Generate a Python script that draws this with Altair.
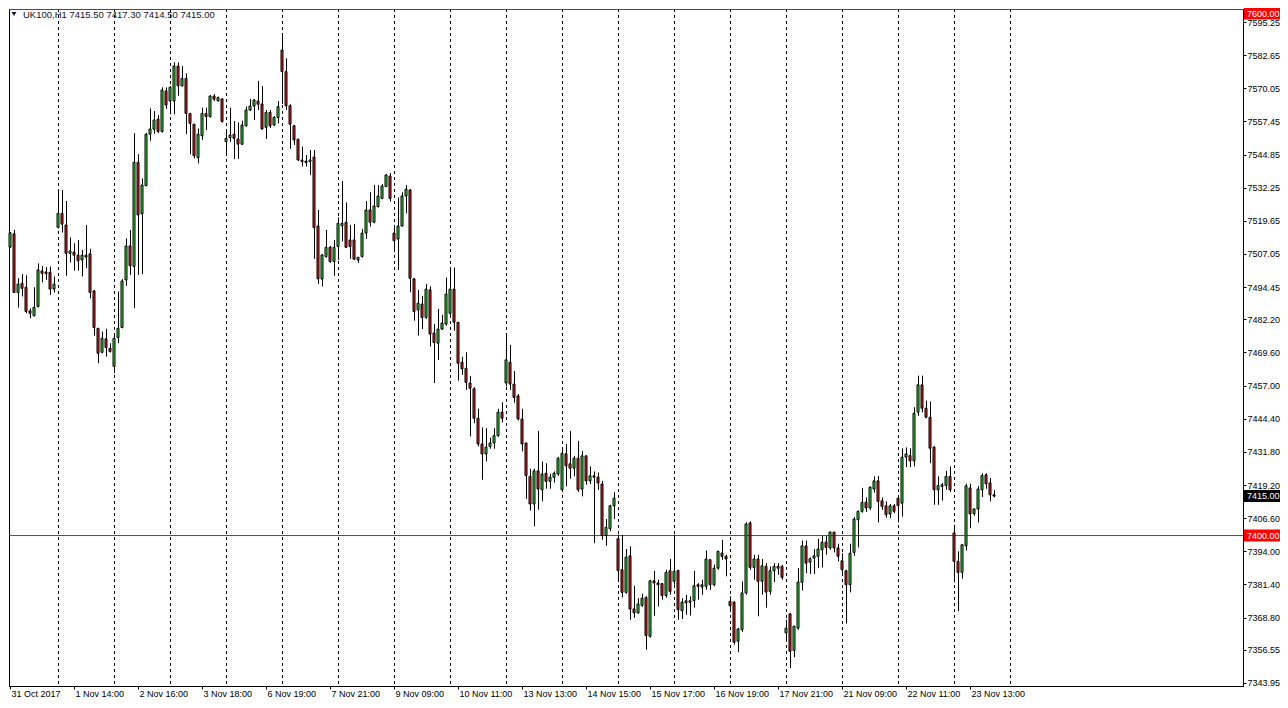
import altair as alt
import pandas as pd

symbol = "UK100,H1"

opens = [7509.7, 7514.7, 7492.4, 7495.9, 7494.4, 7485.4, 7483.6, 7487.1, 7500.6, 7500.2,
         7500.1, 7493.7, 7517.2, 7522.5, 7518.1, 7507.3, 7507.8, 7506.6, 7504.8, 7506.6,
         7507.1, 7493.0, 7478.8, 7469.7, 7474.8, 7471.2, 7464.3, 7475.3, 7479.1, 7497.2,
         7510.1, 7502.3, 7541.9, 7522.3, 7533.0, 7552.6, 7554.5, 7558.3, 7553.6, 7569.0,
         7565.2, 7565.2, 7578.5, 7571.0, 7573.8, 7560.5, 7556.4, 7543.7, 7552.0, 7560.5,
         7559.3, 7567.1, 7565.3, 7566.0, 7549.8, 7551.3, 7552.6, 7550.8, 7548.8, 7555.8,
         7561.8, 7563.3, 7565.2, 7564.1, 7555.2, 7560.9, 7556.1, 7558.9, 7584.6, 7576.4,
         7563.4, 7555.8, 7550.7, 7542.8, 7542.4, 7542.2, 7543.9, 7517.7, 7497.5, 7506.1,
         7509.6, 7504.2, 7509.9, 7517.8, 7519.1, 7512.4, 7512.4, 7504.8, 7506.1, 7515.0,
         7523.8, 7519.1, 7525.1, 7528.2, 7532.7, 7536.7, 7515.0, 7512.7, 7517.7, 7529.1,
         7531.4, 7497.6, 7485.8, 7488.0, 7482.9, 7493.4, 7477.0, 7473.1, 7478.5, 7480.4,
         7484.5, 7493.7, 7481.1, 7465.9, 7463.6, 7458.0, 7455.8, 7444.6, 7434.8, 7431.0,
         7433.9, 7435.2, 7438.0, 7446.9, 7458.0, 7465.9, 7457.6, 7453.1, 7444.3, 7435.2,
         7422.5, 7412.0, 7424.6, 7417.4, 7423.7, 7420.6, 7422.1, 7423.4, 7417.4, 7431.1,
         7427.3, 7425.6, 7429.4, 7417.7, 7430.3, 7420.8, 7422.7, 7422.2, 7419.6, 7400.0,
         7402.6, 7411.3, 7398.8, 7387.0, 7378.4, 7392.3, 7372.1, 7370.6, 7373.4, 7376.5,
         7361.7, 7382.8, 7382.0, 7381.7, 7377.2, 7386.6, 7382.6, 7386.7, 7371.4, 7374.4,
         7374.6, 7375.3, 7381.3, 7380.4, 7380.7, 7390.8, 7381.3, 7387.6, 7393.3, 7392.1,
         7375.0, 7374.7, 7359.8, 7364.2, 7378.2, 7404.8, 7387.9, 7391.1, 7382.6, 7388.3,
         7378.8, 7386.6, 7388.3, 7388.3, 7363.0, 7370.2, 7356.3, 7364.8, 7382.2, 7396.1,
         7389.9, 7391.4, 7392.1, 7394.6, 7397.5, 7395.3, 7401.3, 7395.3, 7390.4, 7386.6,
         7381.3, 7393.6, 7406.0, 7409.2, 7412.7, 7410.5, 7417.7, 7420.8, 7413.2, 7411.3,
         7408.2, 7411.3, 7414.2, 7412.3, 7429.8, 7430.4, 7428.4, 7446.9, 7457.3, 7448.4,
         7445.0, 7433.6, 7417.4, 7418.7, 7419.0, 7422.5, 7401.0, 7390.2, 7386.0, 7396.1,
         7418.1, 7408.3, 7410.1, 7417.4, 7423.1, 7420.0, 7415.5]

highs = [7515.4, 7516.2, 7497.8, 7499.4, 7499.0, 7486.4, 7494.4, 7503.5, 7502.5, 7502.0,
         7502.3, 7498.5, 7531.4, 7531.4, 7527.2, 7513.4, 7511.1, 7512.4, 7508.6, 7518.1,
         7509.0, 7493.4, 7478.9, 7477.6, 7478.6, 7473.1, 7477.0, 7492.8, 7497.5, 7513.0,
         7516.2, 7553.0, 7545.0, 7535.8, 7553.1, 7562.4, 7561.4, 7559.9, 7570.4, 7570.4,
         7570.9, 7579.9, 7579.9, 7578.5, 7575.7, 7560.7, 7556.5, 7554.8, 7562.7, 7562.7,
         7567.5, 7567.8, 7566.9, 7566.3, 7554.2, 7562.7, 7557.6, 7557.1, 7557.7, 7563.1,
         7566.0, 7566.0, 7572.8, 7570.9, 7561.8, 7561.8, 7559.5, 7565.2, 7590.7, 7581.5,
         7564.0, 7556.1, 7550.8, 7547.9, 7544.7, 7546.6, 7546.6, 7523.8, 7507.0, 7516.2,
         7510.1, 7512.4, 7521.0, 7534.8, 7526.7, 7518.1, 7518.5, 7505.9, 7516.6, 7527.2,
         7530.5, 7533.3, 7533.3, 7533.6, 7537.4, 7537.8, 7518.1, 7528.5, 7530.5, 7533.3,
         7531.8, 7497.8, 7493.4, 7491.1, 7495.7, 7494.7, 7480.4, 7486.2, 7483.9, 7498.1,
         7501.9, 7501.9, 7481.2, 7468.0, 7469.7, 7460.7, 7456.4, 7448.2, 7441.1, 7440.8,
         7437.2, 7440.8, 7448.2, 7450.7, 7476.6, 7472.5, 7462.6, 7453.8, 7448.2, 7435.3,
         7425.4, 7425.4, 7439.8, 7428.2, 7427.5, 7423.5, 7424.4, 7429.8, 7433.2, 7434.9,
         7439.8, 7430.3, 7436.0, 7432.2, 7430.5, 7426.3, 7424.4, 7424.0, 7420.8, 7406.3,
         7411.7, 7416.5, 7400.3, 7400.3, 7394.9, 7395.9, 7380.9, 7376.2, 7377.9, 7376.9,
         7383.2, 7386.6, 7383.2, 7381.9, 7387.0, 7391.1, 7400.3, 7387.0, 7376.2, 7377.5,
         7376.9, 7386.6, 7381.9, 7383.2, 7394.3, 7391.1, 7388.9, 7394.2, 7398.4, 7392.7,
         7376.9, 7375.0, 7364.8, 7382.6, 7405.1, 7405.4, 7392.7, 7392.7, 7391.1, 7389.5,
         7388.3, 7389.5, 7389.5, 7388.9, 7368.0, 7370.6, 7365.7, 7387.6, 7398.1, 7398.1,
         7391.7, 7394.9, 7398.8, 7399.9, 7399.9, 7401.6, 7401.4, 7396.9, 7393.3, 7387.0,
         7396.9, 7407.0, 7409.5, 7418.1, 7414.5, 7418.7, 7422.5, 7422.7, 7414.5, 7413.0,
         7412.0, 7412.0, 7414.5, 7433.2, 7433.5, 7433.2, 7448.8, 7460.8, 7460.8, 7451.3,
         7451.0, 7434.1, 7422.5, 7420.0, 7424.6, 7426.3, 7404.1, 7394.0, 7396.8, 7419.7,
         7419.7, 7410.4, 7418.9, 7423.7, 7423.7, 7421.9, 7417.3]

lows = [7509.4, 7492.3, 7486.7, 7490.9, 7484.5, 7482.6, 7483.3, 7486.7, 7496.3, 7497.2,
        7491.5, 7492.4, 7516.8, 7515.2, 7498.8, 7503.8, 7500.7, 7500.7, 7498.5, 7501.6,
        7490.2, 7476.0, 7465.5, 7469.3, 7468.0, 7469.6, 7461.7, 7473.1, 7478.8, 7495.0,
        7499.1, 7486.4, 7499.1, 7499.4, 7532.9, 7550.1, 7552.7, 7553.0, 7553.2, 7562.2,
        7560.2, 7560.2, 7567.2, 7570.7, 7552.6, 7545.0, 7543.4, 7541.5, 7550.4, 7554.2,
        7558.9, 7565.2, 7565.0, 7557.0, 7545.3, 7549.8, 7543.1, 7543.2, 7548.5, 7555.5,
        7561.4, 7558.0, 7561.8, 7554.3, 7550.8, 7555.0, 7555.7, 7556.7, 7564.1, 7561.8,
        7547.0, 7548.5, 7542.4, 7540.3, 7540.3, 7537.1, 7505.2, 7495.7, 7494.7, 7505.6,
        7503.7, 7498.8, 7504.8, 7511.8, 7509.3, 7505.2, 7504.8, 7503.7, 7505.7, 7512.8,
        7517.5, 7518.7, 7524.7, 7527.9, 7532.5, 7527.0, 7508.9, 7501.0, 7517.5, 7522.5,
        7492.5, 7481.7, 7476.0, 7478.5, 7482.4, 7471.9, 7458.0, 7466.8, 7478.2, 7479.8,
        7482.8, 7477.9, 7458.9, 7461.1, 7455.4, 7437.7, 7442.7, 7433.9, 7421.2, 7428.2,
        7433.0, 7433.0, 7437.5, 7443.0, 7456.7, 7455.4, 7450.5, 7443.8, 7432.0, 7413.9,
        7409.5, 7403.5, 7409.8, 7413.0, 7417.8, 7417.8, 7420.2, 7422.7, 7416.6, 7418.7,
        7421.6, 7422.5, 7416.6, 7414.9, 7419.3, 7419.6, 7397.1, 7417.4, 7398.4, 7396.1,
        7401.6, 7406.3, 7383.2, 7376.5, 7377.9, 7368.0, 7368.7, 7370.3, 7372.9, 7356.6,
        7361.2, 7369.5, 7373.0, 7375.6, 7376.4, 7377.5, 7381.3, 7368.0, 7368.3, 7369.9,
        7369.6, 7372.6, 7375.6, 7377.5, 7379.4, 7379.4, 7380.7, 7387.0, 7390.8, 7384.5,
        7371.8, 7358.5, 7355.6, 7363.4, 7377.5, 7387.0, 7383.2, 7369.3, 7377.5, 7372.6,
        7377.5, 7382.3, 7385.1, 7383.2, 7360.4, 7349.6, 7353.7, 7364.2, 7379.1, 7385.7,
        7385.4, 7385.4, 7387.6, 7387.9, 7392.7, 7394.6, 7393.6, 7390.2, 7385.1, 7366.5,
        7378.4, 7392.3, 7395.5, 7408.7, 7409.0, 7409.8, 7416.3, 7405.0, 7409.8, 7406.8,
        7406.6, 7408.5, 7405.0, 7407.2, 7426.0, 7426.0, 7426.3, 7445.5, 7446.8, 7444.6,
        7427.5, 7411.7, 7411.7, 7413.3, 7417.4, 7416.6, 7382.2, 7371.2, 7383.6, 7394.3,
        7402.8, 7407.5, 7405.0, 7414.6, 7417.8, 7413.0, 7414.5]

closes = [7515.1, 7492.4, 7495.6, 7494.0, 7485.2, 7484.5, 7486.8, 7501.0, 7499.7, 7499.6,
          7493.7, 7495.6, 7522.5, 7518.4, 7507.3, 7508.2, 7506.6, 7504.5, 7506.6, 7505.9,
          7492.4, 7479.1, 7469.3, 7475.0, 7471.5, 7470.0, 7475.0, 7478.8, 7496.8, 7510.1,
          7502.6, 7541.9, 7521.9, 7533.3, 7552.6, 7554.6, 7558.0, 7553.6, 7569.4, 7563.7,
          7570.4, 7578.5, 7571.0, 7573.8, 7560.5, 7556.7, 7544.4, 7552.6, 7560.5, 7559.3,
          7567.1, 7565.9, 7566.5, 7557.4, 7551.0, 7552.3, 7551.0, 7548.8, 7556.1, 7561.8,
          7563.3, 7565.6, 7564.0, 7554.6, 7560.9, 7555.8, 7559.0, 7563.1, 7576.4, 7563.4,
          7556.4, 7550.4, 7542.8, 7542.2, 7541.8, 7542.8, 7517.1, 7497.6, 7506.7, 7509.6,
          7504.2, 7509.6, 7518.7, 7518.7, 7509.6, 7509.9, 7505.1, 7505.8, 7515.0, 7523.8,
          7519.1, 7525.3, 7529.1, 7532.9, 7537.1, 7528.2, 7512.1, 7517.7, 7529.1, 7531.7,
          7497.8, 7485.2, 7488.3, 7482.9, 7493.7, 7476.6, 7473.4, 7478.5, 7480.8, 7491.8,
          7493.7, 7481.1, 7465.5, 7463.4, 7458.2, 7456.0, 7444.6, 7434.8, 7431.0, 7433.6,
          7435.2, 7438.0, 7446.9, 7444.6, 7466.8, 7457.6, 7452.5, 7444.3, 7434.8, 7422.8,
          7412.0, 7424.6, 7417.7, 7423.4, 7420.6, 7422.2, 7423.7, 7429.4, 7431.3, 7426.5,
          7425.6, 7429.4, 7417.4, 7430.3, 7420.8, 7422.7, 7422.2, 7420.0, 7400.0, 7403.1,
          7411.3, 7414.2, 7386.7, 7378.4, 7391.8, 7372.1, 7370.6, 7374.0, 7376.2, 7362.0,
          7382.8, 7382.0, 7381.3, 7377.2, 7386.0, 7378.8, 7386.4, 7371.8, 7374.7, 7375.2,
          7375.2, 7380.9, 7380.7, 7381.3, 7391.1, 7381.3, 7387.6, 7394.0, 7392.1, 7391.1,
          7373.3, 7359.4, 7364.5, 7378.2, 7404.4, 7387.9, 7391.1, 7382.6, 7388.5, 7378.5,
          7386.6, 7388.3, 7387.6, 7384.1, 7364.8, 7356.0, 7365.5, 7382.3, 7396.1, 7389.5,
          7391.2, 7392.3, 7394.9, 7397.4, 7395.5, 7401.3, 7395.3, 7392.1, 7387.0, 7381.3,
          7393.3, 7406.3, 7409.2, 7412.6, 7410.5, 7418.4, 7420.8, 7413.0, 7411.1, 7407.9,
          7411.3, 7409.2, 7411.4, 7429.8, 7431.0, 7428.4, 7446.5, 7457.3, 7448.4, 7445.0,
          7433.2, 7417.4, 7419.0, 7419.3, 7422.5, 7417.4, 7390.2, 7386.0, 7396.5, 7418.9,
          7408.2, 7410.1, 7417.7, 7422.8, 7419.7, 7415.5, 7415.0]

# time-axis labels and the bars they sit on
time_labels = ["31 Oct 2017", "1 Nov 14:00", "2 Nov 16:00", "3 Nov 18:00", "6 Nov 19:00",
               "7 Nov 21:00", "9 Nov 09:00", "10 Nov 11:00", "13 Nov 13:00", "14 Nov 15:00",
               "15 Nov 17:00", "16 Nov 19:00", "17 Nov 21:00", "21 Nov 09:00", "22 Nov 11:00",
               "23 Nov 13:00"]
label_bars = [0, 16, 32, 48, 64, 80, 96, 112, 128, 144, 160, 176, 192, 208, 224, 240]

# bars where a new trading day starts (dashed separators)
day_bars = [12, 26, 40, 54, 68, 82, 96, 110, 124, 138, 152, 166, 180, 194, 208, 222, 236, 250]

# price axis tick labels
price_ticks = [7595.25, 7582.65, 7570.05, 7557.45, 7544.85, 7532.25, 7519.65, 7507.05,
               7494.45, 7482.20, 7469.60, 7457.00, 7444.40, 7431.80, 7419.20, 7406.60,
               7394.00, 7381.40, 7368.80, 7356.55, 7343.95]

# horizontal levels
level_prices = [7600.0, 7400.0]

FONT = "Liberation Sans"
GREEN = "#30e030"
RED = "#e41e1e"
TEXT = "#101028"

df = pd.DataFrame({"bar": list(range(len(opens))), "open": opens, "high": highs,
                   "low": lows, "close": closes})
df["dir"] = ["up" if c >= o else "down" for o, c in zip(opens, closes)]

xs = alt.Scale(domain=[-0.25, 308.25], nice=False, zero=False, padding=0)
ys = alt.Scale(domain=[7342.8, 7600.2], nice=False, zero=False, padding=0)

labels_js = "[" + ",".join("'%s'" % s for s in time_labels) + "]"
values_js = "[" + ",".join(str(v) for v in label_bars) + "]"

x_axis = alt.Axis(orient="bottom", values=label_bars,
                  labelExpr=f"{labels_js}[indexof({values_js}, datum.value)]",
                  labelAlign="left", labelBaseline="top", labelOffset=1, labelPadding=0,
                  tickSize=3, tickColor="black", domainColor="black", labelColor="black",
                  labelFont=FONT, labelFontSize=9, grid=False, title=None,
                  labelOverlap=False, labelFlush=False, labelBound=False)
y_axis = alt.Axis(orient="right", values=price_ticks, format=".2f", tickSize=3,
                  tickColor="black", domainColor="black", labelColor="black",
                  labelFont=FONT, labelFontSize=9, labelPadding=1, grid=False, title=None,
                  labelOverlap=False, labelFlush=False, labelBound=False)

grid = alt.Chart(pd.DataFrame({"bar": day_bars})).mark_rule(
    color="black", strokeDash=[3, 3], strokeWidth=1, xOffset=0.5
).encode(x=alt.X("bar:Q", scale=xs, axis=x_axis))

hlines = alt.Chart(pd.DataFrame({"price": level_prices})).mark_rule(
    color="#ff0000", strokeWidth=1
).encode(y=alt.Y("price:Q", scale=ys, axis=y_axis))

wicks = alt.Chart(df).mark_rule(color="black", strokeWidth=1, xOffset=0.5).encode(
    x=alt.X("bar:Q", scale=xs, axis=x_axis),
    y=alt.Y("low:Q", scale=ys, axis=y_axis),
    y2="high:Q",
)

bodies = alt.Chart(df).mark_bar(size=2, stroke="black", strokeWidth=1, orient="vertical").encode(
    x=alt.X("bar:Q", scale=xs, axis=x_axis),
    y=alt.Y("open:Q", scale=ys, axis=y_axis),
    y2="close:Q",
    color=alt.Color("dir:N", scale=alt.Scale(domain=["up", "down"], range=[GREEN, RED]), legend=None),
)

# price tags on the right-hand scale: the top one is nudged down so it stays inside the page
top_df = pd.DataFrame({"price": [level_prices[0]], "fill": ["#ff0000"]})
top_df["label"] = ["%.2f" % p for p in top_df["price"]]
low_df = pd.DataFrame({"price": [level_prices[1], closes[-1]], "fill": ["#ff0000", "#000000"]})
low_df["label"] = ["%.2f" % p for p in low_df["price"]]


def tag_layers(data, dy):
    box = alt.Chart(data).mark_bar(orient="horizontal", size=12, yOffset=dy).encode(
        x=alt.value(1235), x2=alt.value(1275),
        y=alt.Y("price:Q", scale=ys, axis=y_axis),
        color=alt.Color("fill:N", scale=None),
    )
    txt = alt.Chart(data).mark_text(
        align="left", baseline="middle", color="white", font=FONT, fontSize=9, dy=dy
    ).encode(x=alt.value(1238), y=alt.Y("price:Q", scale=ys, axis=y_axis), text="label:N")
    return [box, txt]


title_df = pd.DataFrame({"t": ["%s  %.2f %.2f %.2f %.2f" % (symbol, opens[-1], highs[-1], lows[-1], closes[-1])]})
tri = alt.Chart(title_df).mark_point(shape="triangle-down", filled=True, size=22, color=TEXT, opacity=1).encode(
    x=alt.value(5), y=alt.value(5)
)
title = alt.Chart(title_df).mark_text(
    align="left", baseline="alphabetic", font=FONT, fontSize=9.5, color=TEXT
).encode(x=alt.value(14), y=alt.value(9), text="t:N")

layers = [grid, hlines, wicks, bodies] + tag_layers(top_df, 4) + tag_layers(low_df, 0) + [tri, title]

chart = alt.layer(*layers).properties(
    width=1234, height=677,
    autosize=alt.AutoSizeParams(type="none"),
    padding={"left": 1, "top": 1, "right": 37, "bottom": 14},
    background="white",
).configure_view(stroke="black", strokeWidth=1)

chart.save("out.html", embed_options={"renderer": "svg", "actions": False})
